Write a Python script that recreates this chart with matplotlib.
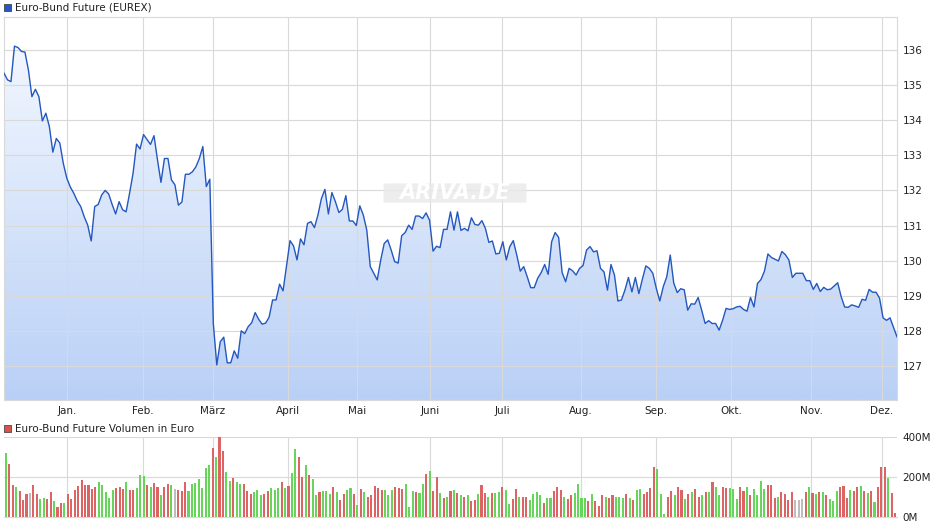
import numpy as np
import matplotlib.pyplot as plt
from matplotlib.patches import Rectangle, FancyBboxPatch
from matplotlib.colors import LinearSegmentedColormap

#%% data
price = [135.34, 135.15, 135.10, 136.11, 136.07, 135.96, 135.94, 135.43, 134.67, 134.88,
         134.67, 133.98, 134.20, 133.82, 133.09, 133.48, 133.35, 132.77, 132.35, 132.10,
         131.92, 131.70, 131.54, 131.25, 131.01, 130.56, 131.54, 131.60, 131.87, 132.00,
         131.90, 131.60, 131.33, 131.68, 131.45, 131.39, 131.92, 132.49, 133.32, 133.18,
         133.59, 133.45, 133.31, 133.56, 132.87, 132.23, 132.91, 132.91, 132.30, 132.16,
         131.58, 131.67, 132.46, 132.46, 132.53, 132.67, 132.91, 133.25, 132.11, 132.32,
         128.22, 127.03, 127.69, 127.82, 127.09, 127.09, 127.43, 127.22, 128.00, 127.92,
         128.12, 128.23, 128.52, 128.33, 128.19, 128.22, 128.39, 128.88, 128.88, 129.33,
         129.14, 129.85, 130.57, 130.42, 130.02, 130.62, 130.45, 131.06, 131.11, 130.94,
         131.30, 131.77, 132.03, 131.33, 131.94, 131.68, 131.37, 131.46, 131.85, 131.13,
         131.13, 131.00, 131.56, 131.30, 130.87, 129.83, 129.64, 129.45, 130.02, 130.49,
         130.59, 130.30, 129.97, 129.93, 130.71, 130.80, 131.01, 130.89, 131.27, 131.27,
         131.20, 131.36, 131.15, 130.27, 130.41, 130.37, 130.89, 130.89, 131.39, 130.87,
         131.39, 130.86, 130.92, 130.85, 131.22, 131.03, 131.01, 131.14, 130.92, 130.52,
         130.56, 130.19, 130.21, 130.54, 130.02, 130.40, 130.57, 130.16, 129.70, 129.83,
         129.54, 129.23, 129.23, 129.50, 129.66, 129.89, 129.61, 130.54, 130.80, 130.66,
         129.66, 129.40, 129.78, 129.71, 129.59, 129.78, 129.86, 130.30, 130.40, 130.25,
         130.28, 129.78, 129.68, 129.16, 129.89, 129.59, 128.85, 128.88, 129.16, 129.52,
         129.11, 129.52, 129.06, 129.47, 129.85, 129.78, 129.64, 129.21, 128.85, 129.26,
         129.54, 130.16, 129.36, 129.09, 129.20, 129.17, 128.59, 128.77, 128.76, 128.95,
         128.59, 128.21, 128.29, 128.21, 128.21, 128.02, 128.30, 128.64, 128.61, 128.63,
         128.68, 128.70, 128.61, 128.56, 128.95, 128.68, 129.35, 129.46, 129.70, 130.19,
         130.09, 130.04, 129.99, 130.26, 130.17, 130.02, 129.52, 129.64, 129.64, 129.64,
         129.43, 129.43, 129.18, 129.35, 129.12, 129.24, 129.17, 129.19, 129.28, 129.37,
         128.97, 128.68, 128.67, 128.74, 128.71, 128.67, 128.90, 128.87, 129.18, 129.10,
         129.10, 128.93, 128.37, 128.30, 128.37, 128.10, 127.83]

# volume in million euro
volume = [318, 267, 161, 151, 128, 87, 113, 121, 158, 116, 92, 97, 92, 123, 82, 52, 72, 72,
          113, 92, 133, 153, 183, 158, 158, 138, 148, 173, 158, 123, 97, 133, 143, 148, 138,
          173, 133, 133, 143, 208, 203, 158, 148, 168, 148, 108, 148, 163, 158, 138, 133,
          128, 173, 128, 163, 168, 188, 143, 244, 259, 344, 299, 400, 329, 223, 178, 193,
          173, 163, 163, 128, 113, 123, 133, 108, 113, 128, 143, 133, 143, 173, 143, 153,
          218, 339, 299, 198, 259,
          208, 188, 108, 123, 128, 128, 113, 148, 123, 87, 113, 133, 143, 113, 62, 138, 123,
          102, 108, 153, 143, 133, 133, 108, 133, 148, 143, 138, 163, 52, 128, 123, 118, 163,
          213, 228, 128, 198, 118, 97, 102, 128, 133, 118, 108, 102, 108, 82, 87, 113, 158,
          118, 102, 118, 118, 123, 148, 133, 67, 92, 138, 102, 102, 102, 87, 113, 123, 108,
          72, 97, 97, 128, 148, 133, 102, 92, 108, 118, 163, 97, 97, 82, 113, 82, 57, 108, 102,
          97, 108, 102, 102, 97, 113, 97, 87, 133, 138, 113, 123, 143, 249, 239, 113, 17, 102,
          128, 108, 148, 133, 92, 113, 123, 138, 102, 108, 123, 123, 173, 148, 108, 148, 143,
          143, 138, 92, 148, 128, 148, 108, 138, 108, 178, 138, 158, 158, 97, 102, 123, 113,
          87, 123, 87, 87, 92, 123, 148, 118, 113, 123, 123, 108, 92, 82, 128, 148, 153, 97,
          133, 128, 148, 153, 128, 118, 128, 77, 148, 249, 249, 193, 118, 22]
# g = up day, r = down day, n = unchanged
vol_dir = ("grrgrrrnrr" "ggrrgrrgrr" "rrrrrrrggg" "ggrrrgrrgg" "grgrrgrrgn"
           "rrrggggggg" "rgrrggrggr" "rrgggrrggg" "rgrggrrg"
           "rggrgggrgr" "rggrgrgrrr" "rrgggrrrgg" "grggrgrrgr" "grgrgrgrrg"
           "rrgrggrggr" "rgrrggggrg" "grrrgrrggg" "grgrrrg"
           "rrgggrgrgg" "rrrrgggrrg" "rrgrgrrgrg" "rggrrgggrr" "grggggrrrg"
           "rrrrnnnrgr" "grgrgggrrr" "grrgrgrgrr" "rgrr")

months = ["Jan.", "Feb.", "März", "April", "Mai", "Juni", "Juli", "Aug.", "Sep.", "Okt.", "Nov.", "Dez."]
month_pos = [0.0705, 0.1557, 0.2341, 0.3180, 0.3953, 0.4770, 0.5577, 0.6462, 0.7301, 0.8141, 0.9037, 0.9832]
price_ticks = [127, 128, 129, 130, 131, 132, 133, 134, 135, 136]

#%% figure
W, H = 940, 526
fig = plt.figure(figsize=(W / 100, H / 100), dpi=100)
grid_c = "#d9d9d9"
txt_c = "#222222"

def axbox(x0, y0, x1, y1):
    return [x0 / W, 1 - y1 / H, (x1 - x0) / W, (y1 - y0) / H]

ax = fig.add_axes(axbox(4, 17, 897, 400))
xp = np.linspace(0, 1, len(price))
ymin, ymax = 126.03, 136.94
ax.set_xlim(0, 1)
ax.set_ylim(ymin, ymax)

# gradient fill under the line
grad = np.linspace(0, 1, 256).reshape(-1, 1)
cmap = LinearSegmentedColormap.from_list("g", ["#b9d0f6", "#f7faff"])
im = ax.imshow(grad, cmap=cmap, aspect="auto", extent=[0, 1, ymin, ymax], origin="lower", zorder=1)
poly = ax.fill_between(xp, price, ymin, color="none")
im.set_clip_path(poly.get_paths()[0], transform=ax.transData)

for m in month_pos:
    ax.axvline(m, color=grid_c, lw=0.8, zorder=2)
for t in price_ticks:
    ax.axhline(t, color=grid_c, lw=0.8, zorder=2)
ax.plot(xp, price, color="#2457bf", lw=1.0, zorder=3)

ax.yaxis.tick_right()
ax.set_yticks(price_ticks)
ax.set_yticklabels([str(t) for t in price_ticks], fontsize=7.5, color=txt_c)
ax.set_xticks(month_pos)
ax.set_xticklabels(months, fontsize=7.5, color=txt_c)
ax.tick_params(length=0, pad=4)
for s in ax.spines.values():
    s.set_color(grid_c)
    s.set_linewidth(0.8)

# watermark
wm = FancyBboxPatch((0.425, 131.65), 0.16, 0.55, boxstyle="round,pad=0,rounding_size=0.01",
                    transform=ax.transData, color="#e9e9e9", alpha=0.8, zorder=2.5, lw=0)
ax.add_patch(wm)
ax.text(0.505, 131.93, "ARIVA.DE", fontsize=15, style="italic", color="white",
        ha="center", va="center", zorder=2.6, fontweight="bold")

# legends
fig.patches.append(Rectangle((4 / W, 1 - 11 / H), 7 / W, 7 / H, transform=fig.transFigure,
                             facecolor="#2457bf", edgecolor="#333333", lw=0.5))
fig.text(15 / W, 1 - 7.5 / H, "Euro-Bund Future (EUREX)", fontsize=7.5, color=txt_c, va="center")
fig.patches.append(Rectangle((4 / W, 1 - 432 / H), 7 / W, 7 / H, transform=fig.transFigure,
                             facecolor="#d9534f", edgecolor="#333333", lw=0.5))
fig.text(15 / W, 1 - 428.5 / H, "Euro-Bund Future Volumen in Euro", fontsize=7.5, color=txt_c, va="center")

#%% volume panel
av = fig.add_axes(axbox(4, 437, 897, 517))
n = len(volume)
xv = np.linspace(0.002, 0.998, n)
cols = {"g": "#66d65a", "r": "#dd6464", "n": "#bdbdbd"}
bar_cols = [cols[vol_dir[i]] if i < len(vol_dir) else cols["r"] for i in range(n)]
av.bar(xv, volume, width=0.6 / n, color=bar_cols, zorder=3)
av.set_xlim(0, 1)
av.set_ylim(0, 400)
for m in month_pos:
    av.axvline(m, color=grid_c, lw=0.8, zorder=1)
for t in [200, 400]:
    av.axhline(t, color=grid_c, lw=0.8, zorder=1)
av.yaxis.tick_right()
av.set_yticks([0, 200, 400])
av.set_yticklabels(["0M", "200M", "400M"], fontsize=7.5, color=txt_c)
av.set_xticks([])
av.tick_params(length=0, pad=4)
for s in av.spines.values():
    s.set_visible(False)
av.spines["bottom"].set_visible(True)
av.spines["bottom"].set_color(grid_c)

fig.savefig("out.png", dpi=100)
